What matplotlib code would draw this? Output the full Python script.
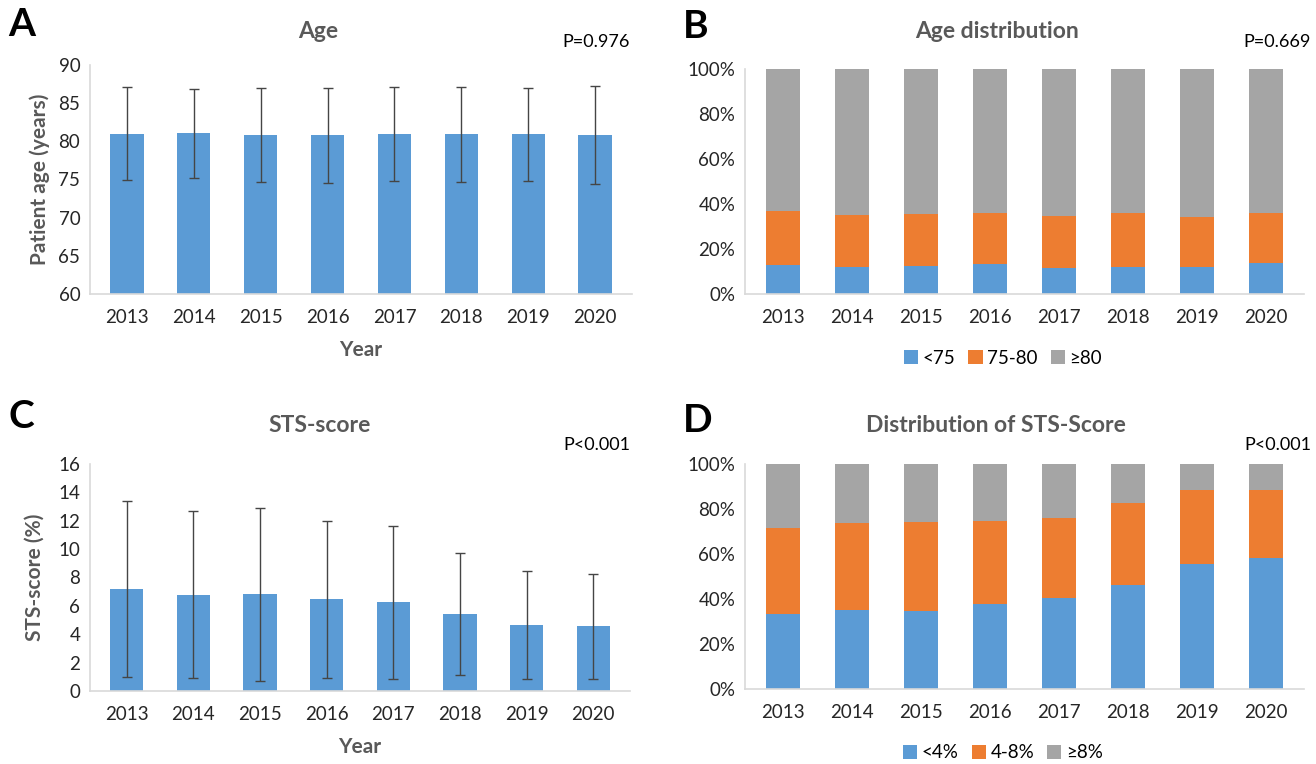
import matplotlib
matplotlib.use("Agg")
import matplotlib.pyplot as plt
import numpy as np

plt.rcParams['font.family'] = ['Lato', 'DejaVu Sans']

years = ["2013", "2014", "2015", "2016", "2017", "2018", "2019", "2020"]

# Panel A: patient age, mean and SD
age_mean = [81.0, 81.05, 80.85, 80.8, 80.95, 80.9, 80.9, 80.8]
age_sd = [6.1, 5.8, 6.2, 6.25, 6.2, 6.25, 6.15, 6.4]

# Panel B: age groups (%)
age_lt75 = [12.7, 12.0, 12.3, 13.3, 11.4, 11.9, 11.9, 13.6]
age_75_80 = [24.2, 23.3, 23.4, 22.6, 23.4, 24.0, 22.5, 22.5]
age_ge80 = [63.1, 64.7, 64.3, 64.1, 65.2, 64.1, 65.6, 63.9]

# Panel C: STS-score (%), mean and SD
sts_mean = [7.2, 6.8, 6.82, 6.45, 6.24, 5.44, 4.63, 4.56]
sts_sd = [6.22, 5.88, 6.08, 5.5, 5.4, 4.32, 3.8, 3.72]

# Panel D: STS-score groups (%)
sts_lt4 = [33.4, 34.9, 34.6, 37.8, 40.5, 46.1, 55.6, 58.2]
sts_4_8 = [38.1, 39.0, 39.6, 36.7, 35.5, 36.4, 32.7, 30.4]
sts_ge8 = [28.5, 26.1, 25.8, 25.5, 24.0, 17.5, 11.7, 11.4]

BLUE = "#5B9BD5"
ORANGE = "#ED7D31"
GRAY = "#A5A5A5"
TITLE_C = "#595959"
TICK_C = "#262626"
SPINE_C = "#D9D9D9"
FS = 13.5

W, H = 1316, 764
fig = plt.figure(figsize=(W / 100, H / 100), dpi=100)


def box(left, top, right, bottom):
    return [left / W, 1 - bottom / H, (right - left) / W, (bottom - top) / H]


def fpos(px, py):
    return (px / W, 1 - py / H)


def style(ax):
    for s in ("top", "right"):
        ax.spines[s].set_visible(False)
    for s in ("left", "bottom"):
        ax.spines[s].set_color(SPINE_C)
        ax.spines[s].set_linewidth(1.2)
    ax.tick_params(length=0, labelsize=FS, colors=TICK_C, pad=7)
    ax.tick_params(axis="x", pad=11)


x = np.arange(len(years))
bw = 0.5
err_kw = dict(ecolor="#454545", elinewidth=1, capsize=3.5, capthick=1)
leg_kw = dict(loc="center", ncol=3, frameon=False, fontsize=FS, handlelength=0.75,
              handleheight=0.75, handletextpad=0.25, columnspacing=0.7,
              bbox_transform=fig.transFigure)

# ---- A ----
axA = fig.add_axes(box(90, 65, 632, 294))
axA.bar(x, age_mean, bw, color=BLUE, yerr=age_sd, error_kw=err_kw)
axA.set_ylim(60, 90)
axA.set_yticks(range(60, 91, 5))
axA.set_xlim(-0.55, 7.55)
axA.set_xticks(x)
axA.set_xticklabels(years)
axA.set_ylabel("Patient age (years)", fontsize=15, fontweight="bold", color=TITLE_C, labelpad=6)
axA.set_xlabel("Year", fontsize=15, fontweight="bold", color=TITLE_C, labelpad=10)
style(axA)

# ---- B ----
axB = fig.add_axes(box(745, 69, 1304, 294))
axB.bar(x, age_lt75, bw, color=BLUE, label="<75")
axB.bar(x, age_75_80, bw, bottom=age_lt75, color=ORANGE, label="75-80")
axB.bar(x, age_ge80, bw, bottom=np.add(age_lt75, age_75_80), color=GRAY, label="≥80")
axB.set_ylim(0, 100)
axB.set_yticks(range(0, 101, 20))
axB.set_yticklabels([f"{v}%" for v in range(0, 101, 20)])
axB.set_xlim(-0.55, 7.55)
axB.set_xticks(x)
axB.set_xticklabels(years)
style(axB)
axB.legend(bbox_to_anchor=fpos(1003, 358), **leg_kw)

# ---- C ----
axC = fig.add_axes(box(90, 464, 630, 691))
axC.bar(x, sts_mean, bw, color=BLUE, yerr=sts_sd, error_kw=err_kw)
axC.set_ylim(0, 16)
axC.set_yticks(range(0, 17, 2))
axC.set_xlim(-0.55, 7.55)
axC.set_xticks(x)
axC.set_xticklabels(years)
axC.set_ylabel("STS-score (%)", fontsize=15, fontweight="bold", color=TITLE_C, labelpad=10)
axC.set_xlabel("Year", fontsize=15, fontweight="bold", color=TITLE_C, labelpad=10)
style(axC)

# ---- D ----
axD = fig.add_axes(box(745, 464, 1304, 689))
axD.bar(x, sts_lt4, bw, color=BLUE, label="<4%")
axD.bar(x, sts_4_8, bw, bottom=sts_lt4, color=ORANGE, label="4-8%")
axD.bar(x, sts_ge8, bw, bottom=np.add(sts_lt4, sts_4_8), color=GRAY, label="≥8%")
axD.set_ylim(0, 100)
axD.set_yticks(range(0, 101, 20))
axD.set_yticklabels([f"{v}%" for v in range(0, 101, 20)])
axD.set_xlim(-0.55, 7.55)
axD.set_xticks(x)
axD.set_xticklabels(years)
style(axD)
axD.legend(bbox_to_anchor=fpos(1003, 753), **leg_kw)


# Titles, p-values and panel letters in figure pixel coordinates
def ftext(px, py, s, **kw):
    fig.text(*fpos(px, py), s, **kw)


tkw = dict(fontsize=16.5, fontweight="bold", color=TITLE_C, ha="center", va="center")
ftext(318, 31, "Age", **tkw)
ftext(997, 31, "Age distribution", **tkw)
ftext(320, 426, "STS-score", **tkw)
ftext(996, 426, "Distribution of STS-Score", **tkw)

pkw = dict(fontsize=13, color="black", ha="right", va="center")
ftext(630, 42, "P=0.976", **pkw)
ftext(1311, 42, "P=0.669", **pkw)
ftext(630, 445, "P<0.001", **pkw)
ftext(1311, 445, "P<0.001", **pkw)

lkw = dict(fontsize=28, fontweight="bold", color="black", ha="left", va="center")
ftext(8, 24, "A", **lkw)
ftext(683, 26, "B", **lkw)
ftext(8, 416, "C", **lkw)
ftext(683, 421, "D", **lkw)

fig.savefig("out.png", dpi=100, facecolor="white")
